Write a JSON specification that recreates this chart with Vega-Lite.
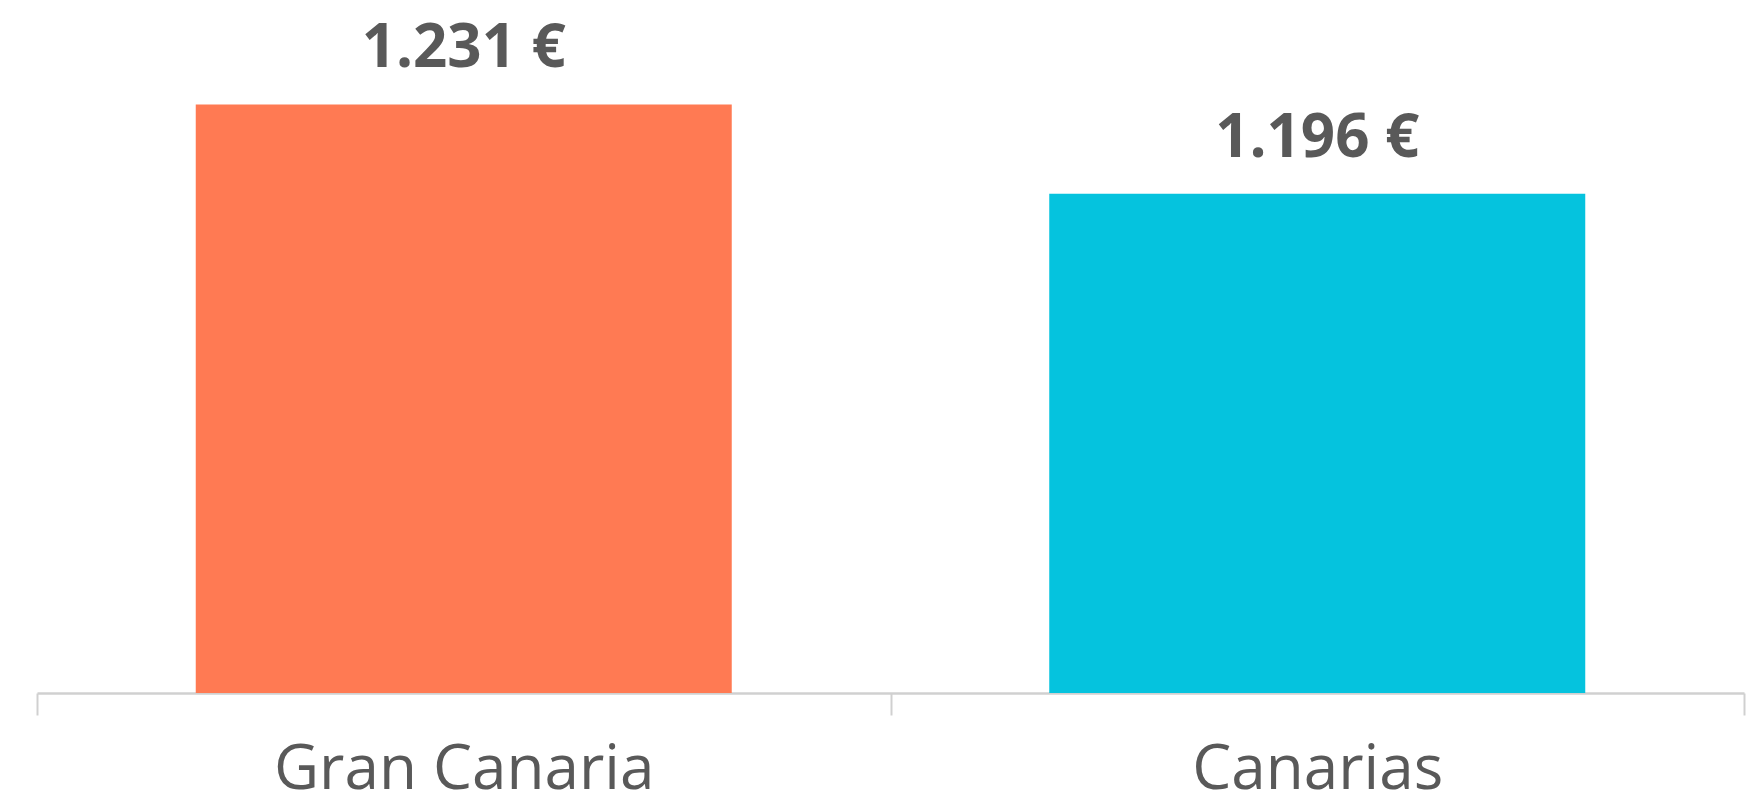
{
  "$schema": "https://vega.github.io/schema/vega-lite/v6.json",
  "width": 1707,
  "height": 693,
  "autosize": "none",
  "padding": {"left": 37, "top": 0, "right": 18, "bottom": 114},
  "background": "white",
  "config": {
    "view": {"stroke": null},
    "locale": {
      "number": {"decimal": ",", "thousands": ".", "grouping": [3], "currency": ["", " €"]}
    }
  },
  "data": {
    "values": [
      {"region": "Gran Canaria", "value": 1231},
      {"region": "Canarias", "value": 1196}
    ]
  },
  "encoding": {
    "x": {
      "field": "region",
      "type": "nominal",
      "sort": null,
      "scale": {"paddingInner": 0, "paddingOuter": 0},
      "axis": {
        "title": null,
        "labelAngle": 0,
        "labelFont": "Open Sans",
        "labelFontSize": 62,
        "labelColor": "#595959",
        "labelPadding": 24,
        "labelLimit": 0,
        "domainColor": "#d0d0d0",
        "domainWidth": 2.5,
        "tickColor": "#d0d0d0",
        "tickWidth": 2,
        "tickSize": 22,
        "tickBand": "extent"
      }
    },
    "y": {
      "field": "value",
      "type": "quantitative",
      "scale": {"domain": [1000, 1272], "zero": false},
      "axis": null
    }
  },
  "layer": [
    {
      "mark": {"type": "bar", "width": {"band": 0.628}, "clip": true},
      "encoding": {
        "color": {
          "field": "region",
          "type": "nominal",
          "scale": {"domain": ["Gran Canaria", "Canarias"], "range": ["#FF7A53", "#05C3DE"]},
          "legend": null
        }
      }
    },
    {
      "mark": {
        "type": "text",
        "font": "Open Sans",
        "fontWeight": "bold",
        "fontSize": 60,
        "color": "#595959",
        "baseline": "alphabetic",
        "dy": -37
      },
      "encoding": {
        "text": {"field": "value", "type": "quantitative", "format": "$,.0f"}
      }
    }
  ]
}
